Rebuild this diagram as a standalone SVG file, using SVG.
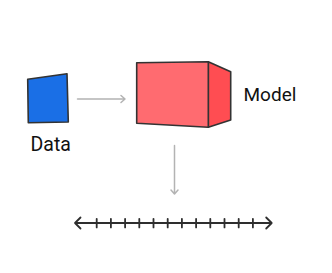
<svg xmlns="http://www.w3.org/2000/svg" width="332" height="273" viewBox="0 0 332 273">
<defs>
<style>
.lbl{font-family:Roboto,"Liberation Sans",sans-serif;fill:#111;}
.edge{stroke:#b3b3b3;stroke-width:1.5;fill:none;stroke-linecap:round;stroke-linejoin:round;}
.outline{stroke:#333;stroke-width:1.6;stroke-linejoin:round;}
.axis{stroke:#2e2e2e;stroke-width:1.8;fill:none;stroke-linecap:round;stroke-linejoin:round;}
</style>
</defs>
<rect width="332" height="273" fill="#fff"/>
<g id="data">
<polygon class="outline" points="27.7,79.3 67,73.7 68.3,122 28.3,122.7" fill="#1a6fe6"/>
<text class="lbl" x="30.5" y="151" font-size="19.5">Data</text>
</g>
<g id="model">
<polygon class="outline" points="208.3,61.7 230.7,71.7 230.7,120 208.3,127.3" fill="#ff4d52"/>
<polygon class="outline" points="136.7,62.7 208.3,61.7 208.3,127.3 136.7,123.3" fill="#ff6b70"/>
<text class="lbl" x="243.5" y="101" font-size="19">Model</text>
</g>
<g id="number-line">
<path class="axis" d="M75,223 H271.7 M80.5,217.5 L75,223 L80.5,228.5 M266.2,217.5 L271.7,223 L266.2,228.5"/>
<path class="axis" stroke-width="2.4" stroke-linecap="butt" d="M96.7,218.8v8.6 M110.9,218.8v8.6 M125.1,218.8v8.6 M139.3,218.8v8.6 M153.5,218.8v8.6 M167.7,218.8v8.6 M181.9,218.8v8.6 M196.1,218.8v8.6 M210.3,218.8v8.6 M224.5,218.8v8.6 M238.7,218.8v8.6 M252.9,218.8v8.6"/>
</g>
<g id="connectors">
<path class="edge" d="M77.5,99 H125 M121,95.5 L125,99 L121,102.5"/>
<path class="edge" d="M174.5,145.5 V194 M171,190 L174.5,194 L178,190"/>
</g>
</svg>
